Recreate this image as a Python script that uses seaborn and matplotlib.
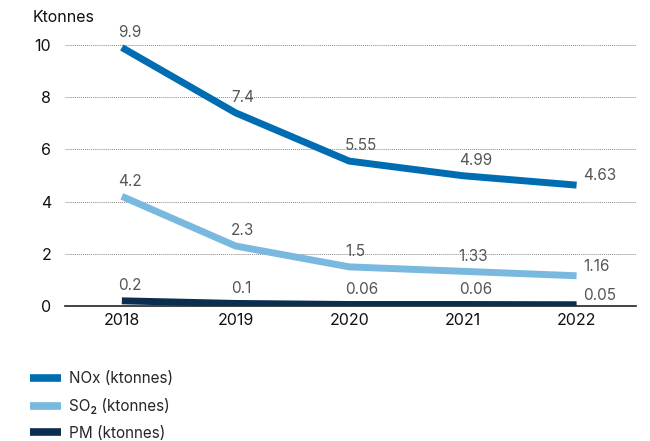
import matplotlib
matplotlib.use("Agg")
import matplotlib.pyplot as plt
import seaborn as sns
import pandas as pd

years = [2018, 2019, 2020, 2021, 2022]
nox = [9.9, 7.4, 5.55, 4.99, 4.63]
so2 = [4.2, 2.3, 1.5, 1.33, 1.16]
pm = [0.2, 0.1, 0.06, 0.06, 0.05]
nox_labels = ["9.9", "7.4", "5.55", "4.99", "4.63"]
so2_labels = ["4.2", "2.3", "1.5", "1.33", "1.16"]
pm_labels = ["0.2", "0.1", "0.06", "0.06", "0.05"]
series_names = ["NOx (ktonnes)", "SO\u2082 (ktonnes)", "PM (ktonnes)"]
colors = ["#006db3", "#7ab9df", "#0b2e4f"]

sns.set_theme(style="white")
plt.rcParams["font.family"] = ["Inter", "DejaVu Sans"]

rows = []
for name, vals in zip(series_names, [nox, so2, pm]):
    for y, v in zip(years, vals):
        rows.append({"year": y, "value": v, "series": name})
df = pd.DataFrame(rows)

fig = plt.figure(figsize=(6.5, 4.41), dpi=100)
ax = fig.add_axes([0.1, 0.306, 0.878, 0.61])

sns.lineplot(data=df, x="year", y="value", hue="series", palette=colors,
             hue_order=series_names, linewidth=5, ax=ax, legend=False,
             solid_capstyle="butt", solid_joinstyle="miter", sort=False)

ax.set_xlim(2017.5, 2022.52)
ax.set_ylim(0, 10.3)
ax.set_xticks(years)
ax.set_xticklabels([str(y) for y in years])
ax.set_yticks([0, 2, 4, 6, 8, 10])
ax.tick_params(axis="both", length=0, labelsize=11.5, labelcolor="#111111")
ax.tick_params(axis="x", pad=5)
ax.tick_params(axis="y", pad=10)
ax.set_xlabel("")
ax.set_ylabel("")
ax.yaxis.grid(True, linestyle=(0, (1, 1)), color="#888888", linewidth=0.7)
ax.set_axisbelow(True)
for s in ["top", "right", "left"]:
    ax.spines[s].set_visible(False)
ax.spines["bottom"].set_color("#222222")
ax.spines["bottom"].set_linewidth(1.2)
ax.spines["bottom"].set_zorder(1)

fig.text(33 / 650, 1 - 18 / 441, "Ktonnes", fontsize=11.5, color="#111111",
         va="center", ha="left")

# value labels above each point; the last column sits to the right of the line end
for vals, labels in zip([nox, so2, pm], [nox_labels, so2_labels, pm_labels]):
    for i, (y, v, lab) in enumerate(zip(years, vals, labels)):
        if i == len(years) - 1:
            off = (5, 7)
        else:
            off = (-3, 11)
        ax.annotate(lab, (y, v), xytext=off, textcoords="offset points",
                    ha="left", va="center", fontsize=11, color="#555555")

handles = [plt.Line2D([], [], color=c, linewidth=5.5, solid_capstyle="butt")
           for c in colors]
fig.legend(handles, series_names, loc="upper left",
           bbox_to_anchor=(30 / 650, 1 - 371 / 441), frameon=False,
           fontsize=11, handlelength=2.0, handletextpad=0.55,
           labelspacing=0.78, borderpad=0, borderaxespad=0)

fig.savefig("out.png", dpi=100)
